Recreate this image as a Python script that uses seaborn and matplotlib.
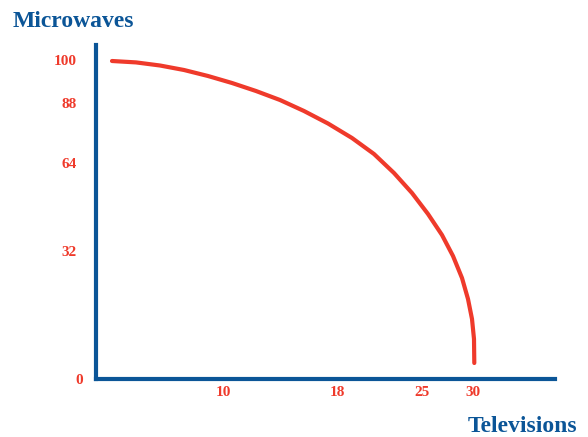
import seaborn as sns
import pandas as pd
import matplotlib.pyplot as plt
from matplotlib.transforms import ScaledTranslation

# schematic production possibilities frontier (units follow the drawing, not the labels)
curve_x = [16, 40, 64, 88, 112, 136, 160, 184, 208, 232, 256, 278, 298, 316,
           332, 346, 357, 366, 372, 376, 378, 378.3]
curve_y = [318, 316.6, 313.5, 309, 303, 296, 288, 279, 268, 255.5, 241, 225,
           206, 186, 165, 144, 123, 101, 80, 60, 40, 16]

x_tick_pos = [127, 241, 326, 377]
x_tick_labels = ["10", "18", "25", "30"]
y_tick_pos = [319, 276, 216, 128, 0]
y_tick_labels = ["100", "88", "64", "32", "0"]

blue = "#0b5597"
red = "#ef3a2b"

sns.set_theme(style="white")
plt.rcParams['font.family'] = ['Liberation Serif', 'DejaVu Serif']
plt.rcParams['font.weight'] = 'bold'

df = pd.DataFrame({"x": curve_x, "y": curve_y})

fig = plt.figure(figsize=(5.88, 4.37), dpi=100)
ax = fig.add_axes([96 / 588, 58 / 437, 459 / 588, 334 / 437])

sns.lineplot(data=df, x="x", y="y", sort=False, estimator=None, color=red,
             linewidth=3, ax=ax, solid_joinstyle="round")

ax.set_xlim(0, 459)
ax.set_ylim(0, 334)
ax.set_xlabel("")
ax.set_ylabel("")

for side in ["top", "right"]:
    ax.spines[side].set_visible(False)
for side in ["left", "bottom"]:
    ax.spines[side].set_color(blue)
    ax.spines[side].set_linewidth(3)
    ax.spines[side].set_capstyle("projecting")

ax.set_xticks(x_tick_pos)
ax.set_xticklabels(x_tick_labels, color=red, fontsize=11, fontweight="bold")
ax.set_yticks(y_tick_pos)
ax.set_yticklabels(y_tick_labels, color=red, fontsize=11, fontweight="bold")
ax.tick_params(axis="x", length=0, pad=5)
ax.tick_params(axis="y", length=0, pad=14)
ax.grid(False)

# the "0" label sits a little further right in the reference
for lab in ax.get_yticklabels():
    if lab.get_text() == "0":
        lab.set_transform(lab.get_transform() + ScaledTranslation(5 / 72, 0, fig.dpi_scale_trans))

fig.text(12.7 / 588, 1 - 27 / 437, "Microwaves", color=blue, fontsize=17,
         fontweight="bold", va="baseline", ha="left")
fig.text(577 / 588, 1 - 432.5 / 437, "Televisions", color=blue, fontsize=17,
         fontweight="bold", va="baseline", ha="right")

fig.savefig("out.png", dpi=100, facecolor="white")
